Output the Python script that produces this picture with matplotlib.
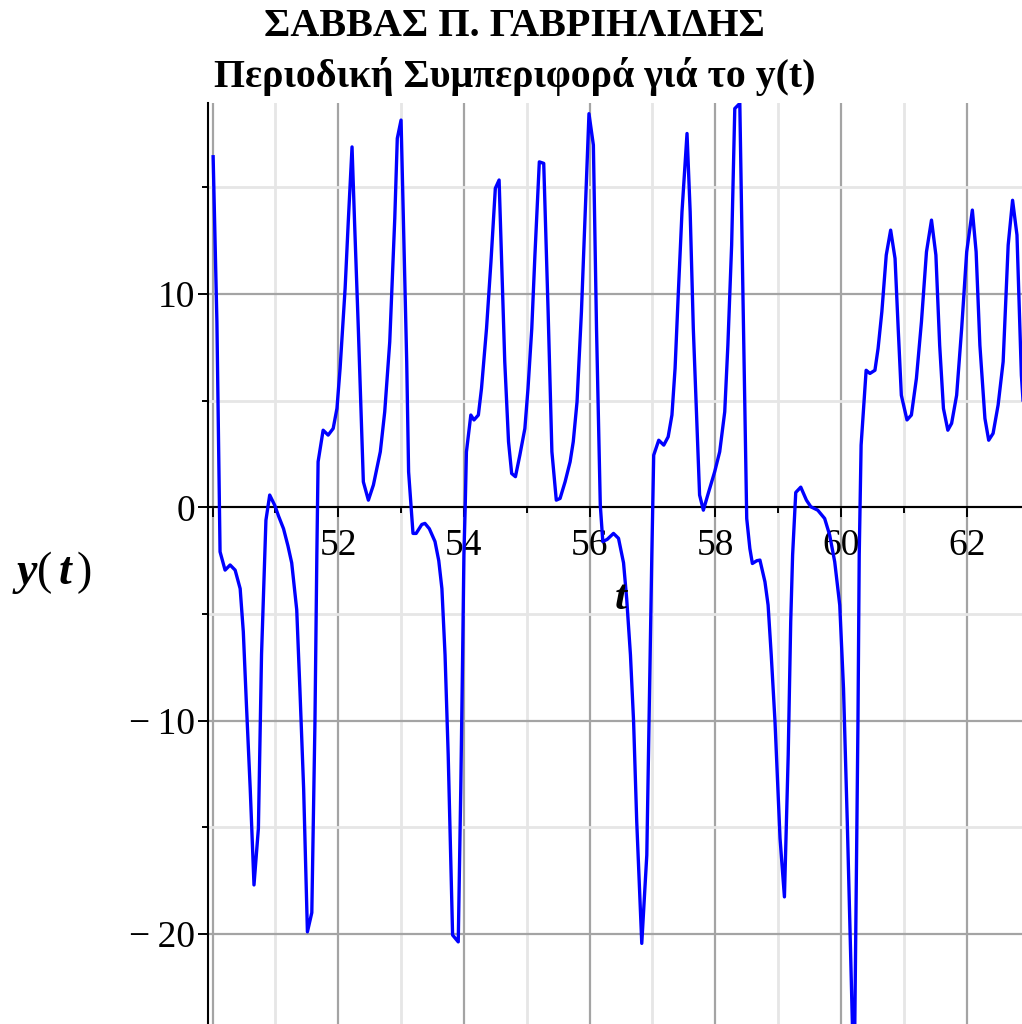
import matplotlib.pyplot as plt
from matplotlib.ticker import MultipleLocator, FuncFormatter

# sampled solution y(t) on 50 <= t <= 63
t = [50.01, 50.07, 50.12, 50.20, 50.28, 50.36, 50.44, 50.49, 50.54, 50.60,
     50.66, 50.73, 50.78, 50.85, 50.91, 50.99, 51.05, 51.13, 51.20, 51.26,
     51.34, 51.39, 51.45, 51.51, 51.58, 51.63, 51.66, 51.68, 51.76, 51.84,
     51.92, 51.98, 52.03, 52.11, 52.16, 52.22, 52.26, 52.32, 52.40, 52.48,
     52.56, 52.67, 52.74, 52.82, 52.90, 52.94, 53.00, 53.04, 53.09, 53.12,
     53.19, 53.24, 53.33, 53.38, 53.45, 53.54, 53.60, 53.65, 53.70, 53.75,
     53.82, 53.91, 53.95, 53.98, 54.00, 54.02, 54.04, 54.11, 54.16, 54.23,
     54.28, 54.36, 54.43, 54.50, 54.56, 54.60, 54.65, 54.71, 54.76, 54.82,
     54.89, 54.97, 55.02, 55.08, 55.13, 55.20, 55.27, 55.34, 55.40, 55.47,
     55.53, 55.61, 55.69, 55.74, 55.80, 55.87, 55.93, 55.99, 56.06, 56.11,
     56.17, 56.21, 56.28, 56.38, 56.46, 56.54, 56.59, 56.65, 56.70, 56.75,
     56.83, 56.91, 56.99, 57.02, 57.10, 57.18, 57.25, 57.31, 57.36, 57.41,
     57.47, 57.55, 57.60, 57.65, 57.71, 57.75, 57.81, 57.88, 57.99, 58.07,
     58.15, 58.20, 58.26, 58.31, 58.39, 58.44, 58.50, 58.55, 58.59, 58.66,
     58.71, 58.79, 58.84, 58.89, 58.95, 59.03, 59.10, 59.16, 59.20, 59.23,
     59.28, 59.36, 59.45, 59.52, 59.63, 59.74, 59.82, 59.90, 59.98, 60.04,
     60.10, 60.18, 60.21, 60.27, 60.29, 60.32, 60.40, 60.46, 60.54, 60.59,
     60.65, 60.72, 60.79, 60.86, 60.91, 60.96, 61.05, 61.12, 61.20, 61.28,
     61.36, 61.44, 61.51, 61.57, 61.63, 61.70, 61.76, 61.84, 61.92, 62.00,
     62.09, 62.15, 62.21, 62.29, 62.35, 62.42, 62.50, 62.58, 62.66, 62.73,
     62.80, 62.87, 62.93]
y = [16.44, 8.70, -2.08, -2.94, -2.70, -2.94, -3.81, -5.83, -9.27, -13.20,
     -17.70, -15.05, -6.90, -0.60, 0.58, 0.10, -0.40, -1.00, -1.80, -2.60,
     -4.80, -8.49, -13.20, -19.90, -19.00, -10.05, -2.24, 2.14, 3.62, 3.39,
     3.70, 4.64, 6.52, 10.27, 13.39, 16.90, 13.39, 8.39, 1.20, 0.34,
     1.05, 2.61, 4.48, 7.76, 13.55, 17.30, 18.16, 13.08, 6.83, 1.67,
     -1.22, -1.22, -0.80, -0.75, -1.00, -1.60, -2.50, -3.81, -6.92, -11.60,
     -20.05, -20.37, -13.20, -6.90, -2.24, -0.06, 2.60, 4.33, 4.10, 4.33,
     5.58, 8.39, 11.50, 14.96, 15.35, 11.50, 6.83, 3.08, 1.59, 1.44,
     2.45, 3.70, 5.58, 8.39, 11.83, 16.20, 16.13, 9.17, 2.61, 0.34,
     0.42, 1.20, 2.14, 3.08, 4.95, 9.17, 13.86, 18.46, 16.99, 8.39,
     0.11, -1.60, -1.50, -1.22, -1.45, -2.60, -4.28, -6.92, -10.05, -14.74,
     -20.44, -16.30, -2.24, 2.45, 3.15, 2.92, 3.31, 4.33, 6.52, 9.95,
     13.86, 17.53, 13.86, 8.39, 3.70, 0.58, -0.13, 0.58, 1.67, 2.61,
     4.48, 7.60, 12.30, 18.70, 18.94, 9.95, -0.52, -1.93, -2.63, -2.50,
     -2.47, -3.49, -4.58, -6.92, -10.05, -15.52, -18.26, -11.61, -5.36, -2.24,
     0.70, 0.95, 0.34, 0.03, -0.13, -0.52, -1.30, -2.55, -4.58, -8.49,
     -14.74, -24.10, -27.00, -10.05, -2.24, 2.92, 6.43, 6.28, 6.43, 7.45,
     9.17, 11.83, 13.00, 11.67, 8.39, 5.26, 4.10, 4.33, 6.05, 8.70,
     11.98, 13.47, 11.83, 7.60, 4.64, 3.62, 3.94, 5.26, 8.39, 11.98,
     13.94, 11.98, 7.60, 4.17, 3.15, 3.47, 4.80, 6.83, 12.30, 14.40,
     12.77, 6.20, 3.50]

title_lines = ['ΣΑΒΒΑΣ Π. ΓΑΒΡΙΗΛΙΔΗΣ', 'Περιοδική Συμπεριφορά γιά το y(t)']

plt.rcParams['font.family'] = ['Liberation Serif', 'DejaVu Serif']
plt.rcParams['mathtext.fontset'] = 'custom'
plt.rcParams['mathtext.rm'] = 'Liberation Serif'
plt.rcParams['mathtext.it'] = 'Liberation Serif:bold:italic'

fig = plt.figure(figsize=(10.22, 10.24), dpi=100)
W, H = 1022, 1024
ax = fig.add_axes([208.3 / W, 0, 1 - 208.3 / W, 1 - 103 / H])

ax.plot(t, y, color='#0000ff', lw=2.4, zorder=3)

ax.set_xlim(49.933, 62.88)
ax.set_ylim(-24.22, 18.96)

ax.xaxis.set_major_locator(MultipleLocator(2))
ax.xaxis.set_minor_locator(MultipleLocator(1))
ax.yaxis.set_major_locator(MultipleLocator(10))
ax.yaxis.set_minor_locator(MultipleLocator(5))
ax.xaxis.set_major_formatter(FuncFormatter(lambda v, p: '' if abs(v - 50) < 0.01 else f'{v:.0f}'))
ax.yaxis.set_major_formatter(FuncFormatter(lambda v, p: f'{v:.0f}'.replace('-', '\u2212\u2009')))

ax.grid(which='major', color='#a4a4a4', lw=1.6)
ax.grid(which='minor', color='#e6e6e6', lw=2.0)
ax.set_axisbelow(True)

for side in ['top', 'right']:
    ax.spines[side].set_visible(False)
ax.spines['bottom'].set_position(('data', 0))
ax.spines['bottom'].set_linewidth(1.5)
ax.spines['left'].set_linewidth(1.5)

ax.tick_params(which='major', length=7.5, width=1.4, labelsize=27)
ax.tick_params(which='minor', length=4.5, width=1.4)
ax.tick_params(axis='x', which='major', pad=8)
ax.tick_params(axis='y', which='major', pad=2)

# axis labels in Maple style
fig.text(622 / W, 1 - 599 / H, '$t$', fontsize=31, ha='center', va='center')
fig.text(52 / W, 1 - 573 / H, '$y(\\,t\\,)$', fontsize=33, ha='center', va='center')

fig.text(514 / W, 1 - 27 / H, title_lines[0], fontsize=29, fontweight='bold',
         ha='center', va='center')
fig.text(515 / W, 1 - 76 / H, title_lines[1], fontsize=28.7, fontweight='bold',
         ha='center', va='center')

fig.savefig('out.png', dpi=100)
